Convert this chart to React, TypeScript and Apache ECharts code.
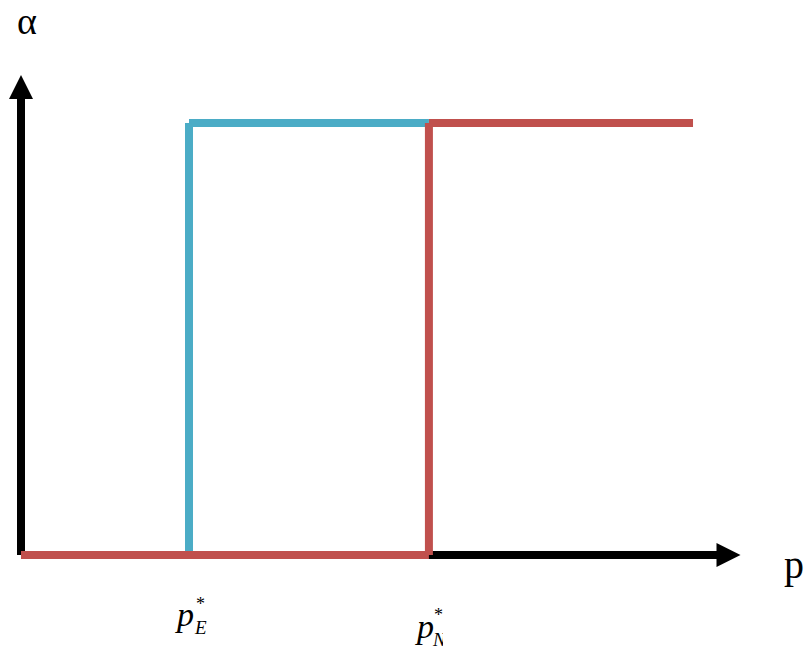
import React, { useEffect, useRef } from "react";
import * as echarts from "echarts";

// Thresholds on the p axis (arbitrary units) and alpha levels
const pE = 25;
const pN = 60.7;
const pEnd = 100;
const alphaLow = 0;
const alphaHigh = 1;

// Step curves
const blueCurve: [number, number][] = [
  [pE, alphaLow],
  [pE, alphaHigh],
  [pN, alphaHigh],
];
const redCurve: [number, number][] = [
  [0, alphaLow],
  [pN, alphaLow],
  [pN, alphaHigh],
  [pEnd, alphaHigh],
];

// Axis extents (leave room for arrow heads)
const xMax = 105.28;
const yMax = 1.0833;

const BLUE = "#4BACC6";
const RED = "#C0504D";
const FONT = "Liberation Serif";

function segments(curve: [number, number][], color: string, name: string) {
  const out: any[] = [];
  for (let i = 0; i < curve.length - 1; i++) {
    out.push({
      type: "line",
      name: name + i,
      data: [curve[i], curve[i + 1]],
      showSymbol: false,
      clip: false,
      lineStyle: { color, width: 8, cap: "butt" },
      silent: true,
    });
  }
  return out;
}

function txt(text: string, x: number, y: number, font: string, lineHeight: number) {
  return {
    type: "text",
    x,
    y,
    z: 10,
    style: { text, font, fill: "#000", verticalAlign: "middle", align: "left", lineHeight },
  };
}

export default function App() {
  const ref = useRef<HTMLDivElement>(null);
  useEffect(() => {
    if (!ref.current) return;
    const chart = echarts.init(ref.current, undefined, { renderer: "svg" });
    const axisCommon = {
      type: "value" as const,
      axisLabel: { show: false },
      axisTick: { show: false },
      splitLine: { show: false },
    };
    chart.setOption({
      animation: false,
      backgroundColor: "#ffffff",
      grid: { left: 21, top: 87, right: 80.5, bottom: 96, containLabel: false },
      xAxis: {
        ...axisCommon,
        min: 0,
        max: xMax,
        axisLine: {
          show: true,
          lineStyle: { color: "#000", width: 8, cap: "butt" },
          symbol: ["none", "triangle"],
          symbolSize: [24, 24],
        },
      },
      yAxis: {
        ...axisCommon,
        min: 0,
        max: yMax,
        axisLine: {
          show: true,
          lineStyle: { color: "#000", width: 8, cap: "butt" },
          symbol: ["none", "triangle"],
          symbolSize: [24, 24],
        },
      },
      series: [...segments(blueCurve, BLUE, "blue"), ...segments(redCurve, RED, "red")],
      graphic: [
        txt("α", 17, 21, `38px '${FONT}'`, 28),
        txt("p", 784, 564, `40px '${FONT}'`, 34),
        // p_E*
        txt("p", 177, 614, `italic 34px '${FONT}'`, 26),
        txt("E", 195, 627, `italic 19px '${FONT}'`, 12),
        txt("*", 196, 604, `18px '${FONT}'`, 9),
        // p_N*
        txt("p", 417, 626, `italic 34px '${FONT}'`, 26),
        txt("N", 433, 639, `italic 19px '${FONT}'`, 12),
        txt("*", 434, 615, `18px '${FONT}'`, 9),
        {
          type: "rect",
          z: 100,
          shape: { x: 443, y: 629, width: 20, height: 22 },
          style: { fill: "#ffffff" },
        },
      ],
    });
    return () => chart.dispose();
  }, []);
  return (
    <div
      ref={ref}
      style={{ position: "fixed", left: 0, top: 0, width: 809, height: 651, background: "#fff" }}
    />
  );
}
